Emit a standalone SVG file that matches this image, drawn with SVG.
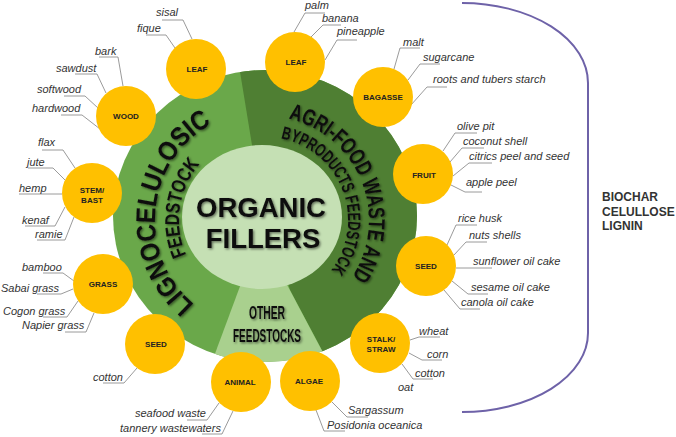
<svg xmlns="http://www.w3.org/2000/svg" width="676" height="437" viewBox="0 0 676 437">
<style>
.node circle{fill:#ffc000}
.nl{font-family:"Liberation Sans",Arial,sans-serif;font-weight:bold;font-size:8px;fill:#222;text-anchor:middle}
.lab{font-family:"Liberation Sans",Arial,sans-serif;font-style:italic;font-size:11px;fill:#333}
.ld{fill:none;stroke:#808080;stroke-width:0.8}
.big{font-family:"Liberation Sans",Arial,sans-serif;font-weight:bold;fill:#111}
.side{font-family:"Liberation Sans",Arial,sans-serif;font-weight:bold;font-size:12px;fill:#333}
</style>
<defs>
<filter id="sh" x="-20%" y="-20%" width="140%" height="140%"><feDropShadow dx="1.3" dy="1.3" stdDeviation="0.9" flood-color="#000" flood-opacity="0.5"/></filter>
<clipPath id="disc"><ellipse cx="265" cy="216" rx="152" ry="146"/></clipPath>
<path id="pLig" d="M194.3,304.3 A110,110 0 0 1 211.7,123.8"/>
<path id="pLigF" d="M186.4,255 A86,86 0 0 1 200.1,163.6"/>
<path id="pAgri" d="M288.4,118.7 A104,104 0 0 1 352.2,276.6"/>
<path id="pBy" d="M280.9,138.5 A83,83 0 0 1 331.3,270"/>
</defs>
<rect width="676" height="437" fill="#fff"/>

<g id="ring">
<ellipse cx="265" cy="216" rx="152" ry="146" fill="#6aa84a"/>
<polygon clip-path="url(#disc)" points="252,145 234,35 520,0 520,440 350,403 290,290" fill="#4f7f33"/>
<polygon clip-path="url(#disc)" points="245.5,271.6 200,394 345,394 280,271.4" fill="#a9d08e"/>
<ellipse cx="262" cy="217" rx="80" ry="72" fill="#c5e0b4"/>
<text class="big" font-size="27" filter="url(#sh)"><textPath href="#pLig" textLength="213" lengthAdjust="spacingAndGlyphs">LIGNOCELULOSIC</textPath></text>
<text class="big" font-size="20" filter="url(#sh)"><textPath href="#pLigF" textLength="97" lengthAdjust="spacingAndGlyphs">FEEDSTOCK</textPath></text>
<text class="big" font-size="23" filter="url(#sh)"><textPath href="#pAgri" textLength="200" lengthAdjust="spacingAndGlyphs">AGRI-FOOD WASTE AND</textPath></text>
<text class="big" font-size="18" filter="url(#sh)"><textPath href="#pBy" textLength="168" lengthAdjust="spacingAndGlyphs">BYPRODUCTS FEEDSTOCK</textPath></text>
<text class="big" font-size="18" filter="url(#sh)" x="267" y="319" text-anchor="middle" textLength="36" lengthAdjust="spacingAndGlyphs">OTHER</text>
<text class="big" font-size="18" filter="url(#sh)" x="267" y="342" text-anchor="middle" textLength="68" lengthAdjust="spacingAndGlyphs">FEEDSTOCKS</text>
<text class="big" font-size="27.5" filter="url(#sh)" x="261" y="217" text-anchor="middle">ORGANIC</text>
<text class="big" font-size="27.5" filter="url(#sh)" x="263" y="248" text-anchor="middle">FILLERS</text>
</g>

<g id="connectors">
<polyline class="ld" points="192,39 183,20 162,20"/>
<polyline class="ld" points="175,48 166,35 146,35"/>
<polyline class="ld" points="123,86 118,57 99,57"/>
<polyline class="ld" points="106,93 97,74 75,74"/>
<polyline class="ld" points="98,108 85,96 64,96"/>
<polyline class="ld" points="100,129 82,115 61,115"/>
<polyline class="ld" points="75,168 63,150 42,150"/>
<polyline class="ld" points="65,180 53,168 28,168"/>
<polyline class="ld" points="62,194 19,194"/>
<polyline class="ld" points="65,207 55,226 25,226"/>
<polyline class="ld" points="74,217 65,240 37,240"/>
<polyline class="ld" points="74,281 63,273 43,273"/>
<polyline class="ld" points="73,289 61,294 37,294"/>
<polyline class="ld" points="78,301 67,317 43,317"/>
<polyline class="ld" points="94,313 86,332 65,332"/>
<polyline class="ld" points="137,368 124,383 103,383"/>
<polyline class="ld" points="219,403 207,420 187,420"/>
<polyline class="ld" points="233,411 222,434 202,434"/>
<polyline class="ld" points="332,402 347,417 368,417"/>
<polyline class="ld" points="316,410 324,431 345,431"/>
<polyline class="ld" points="410,340 419,337 440,337"/>
<polyline class="ld" points="409,353 422,360 442,360"/>
<polyline class="ld" points="402,364 413,379 433,379"/>
<polyline class="ld" points="447,245 456,225 477,225"/>
<polyline class="ld" points="454,255 466,242 487,242"/>
<polyline class="ld" points="456,268 492,268"/>
<polyline class="ld" points="452,281 468,294 488,294"/>
<polyline class="ld" points="444,290 460,309 480,309"/>
<polyline class="ld" points="443,151 455,133 477,133"/>
<polyline class="ld" points="450,162 462,148 484,148"/>
<polyline class="ld" points="453,176 469,163 492,163"/>
<polyline class="ld" points="451,185 465,192 482,192"/>
<polyline class="ld" points="394,69 400,48 420,48"/>
<polyline class="ld" points="408,80 420,64 440,64"/>
<polyline class="ld" points="411,105 427,87 447,87"/>
<polyline class="ld" points="294,32 305,13 325,13"/>
<polyline class="ld" points="311,37 323,25 341,25"/>
<polyline class="ld" points="325,60 337,40 357,40"/>
<path d="M462,3 A126,80 0 0 1 588,83 L588,333 A126,79 0 0 1 462,412" fill="none" stroke="#6e62a8" stroke-width="2"/>
</g>

<g id="leaf-left" class="node"><circle cx="196" cy="69" r="30"/><text class="nl" x="197" y="72">LEAF</text>
<text class="lab" x="156" y="16">sisal</text><text class="lab" x="137" y="32">fique</text></g>
<g id="wood" class="node"><circle cx="126" cy="116" r="30"/><text class="nl" x="126" y="119">WOOD</text>
<text class="lab" x="95" y="55">bark</text><text class="lab" x="56" y="72">sawdust</text><text class="lab" x="37" y="93">softwood</text><text class="lab" x="32" y="112">hardwood</text></g>
<g id="stem" class="node"><circle cx="92" cy="193" r="30"/><text class="nl" x="92" y="193">STEM/</text><text class="nl" x="92" y="203">BAST</text>
<text class="lab" x="38" y="146">flax</text><text class="lab" x="27" y="166">jute</text><text class="lab" x="19" y="192">hemp</text><text class="lab" x="22" y="224">kenaf</text><text class="lab" x="35" y="238">ramie</text></g>
<g id="grass" class="node"><circle cx="103" cy="284" r="30"/><text class="nl" x="103" y="287">GRASS</text>
<text class="lab" x="22" y="271">bamboo</text><text class="lab" x="1" y="292">Sabai grass</text><text class="lab" x="3" y="315">Cogon grass</text><text class="lab" x="22" y="329">Napier grass</text></g>
<g id="seed-left" class="node"><circle cx="155" cy="344" r="30"/><text class="nl" x="156" y="347">SEED</text>
<text class="lab" x="93" y="381">cotton</text></g>
<g id="animal" class="node"><circle cx="241" cy="382" r="30"/><text class="nl" x="240" y="385">ANIMAL</text>
<text class="lab" x="135" y="417">seafood waste</text><text class="lab" x="120" y="432">tannery wastewaters</text></g>
<g id="algae" class="node"><circle cx="310" cy="381" r="30"/><text class="nl" x="309" y="384">ALGAE</text>
<text class="lab" x="348" y="414">Sargassum</text><text class="lab" x="327" y="429">Posidonia oceanica</text></g>
<g id="stalk" class="node"><circle cx="380" cy="343" r="30"/><text class="nl" x="381" y="342">STALK/</text><text class="nl" x="381" y="352">STRAW</text>
<text class="lab" x="419" y="335">wheat</text><text class="lab" x="427" y="358">corn</text><text class="lab" x="415" y="377">cotton</text><text class="lab" x="398" y="391">oat</text></g>
<g id="seed-right" class="node"><circle cx="426" cy="266" r="30"/><text class="nl" x="426" y="269">SEED</text>
<text class="lab" x="458" y="222">rice husk</text><text class="lab" x="469" y="239">nuts shells</text><text class="lab" x="473" y="265">sunflower oil cake</text><text class="lab" x="471" y="291">sesame oil cake</text><text class="lab" x="461" y="306">canola oil cake</text></g>
<g id="fruit" class="node"><circle cx="423" cy="174" r="30"/><text class="nl" x="424" y="178">FRUIT</text>
<text class="lab" x="457" y="130">olive pit</text><text class="lab" x="463" y="145">coconut shell</text><text class="lab" x="469" y="160">citrics peel and seed</text><text class="lab" x="466" y="186">apple peel</text></g>
<g id="bagasse" class="node"><circle cx="383" cy="97" r="30"/><text class="nl" x="383" y="100">BAGASSE</text>
<text class="lab" x="403" y="46">malt</text><text class="lab" x="423" y="61">sugarcane</text><text class="lab" x="433" y="83">roots and tubers starch</text></g>
<g id="leaf-right" class="node"><circle cx="295" cy="62" r="30"/><text class="nl" x="296" y="65">LEAF</text>
<text class="lab" x="305" y="9">palm</text><text class="lab" x="322" y="22">banana</text><text class="lab" x="337" y="35">pineapple</text></g>

<g id="outputs">
<text class="side" x="602" y="201">BIOCHAR</text>
<text class="side" x="602" y="216">CELULLOSE</text>
<text class="side" x="602" y="230">LIGNIN</text>
</g>
</svg>
